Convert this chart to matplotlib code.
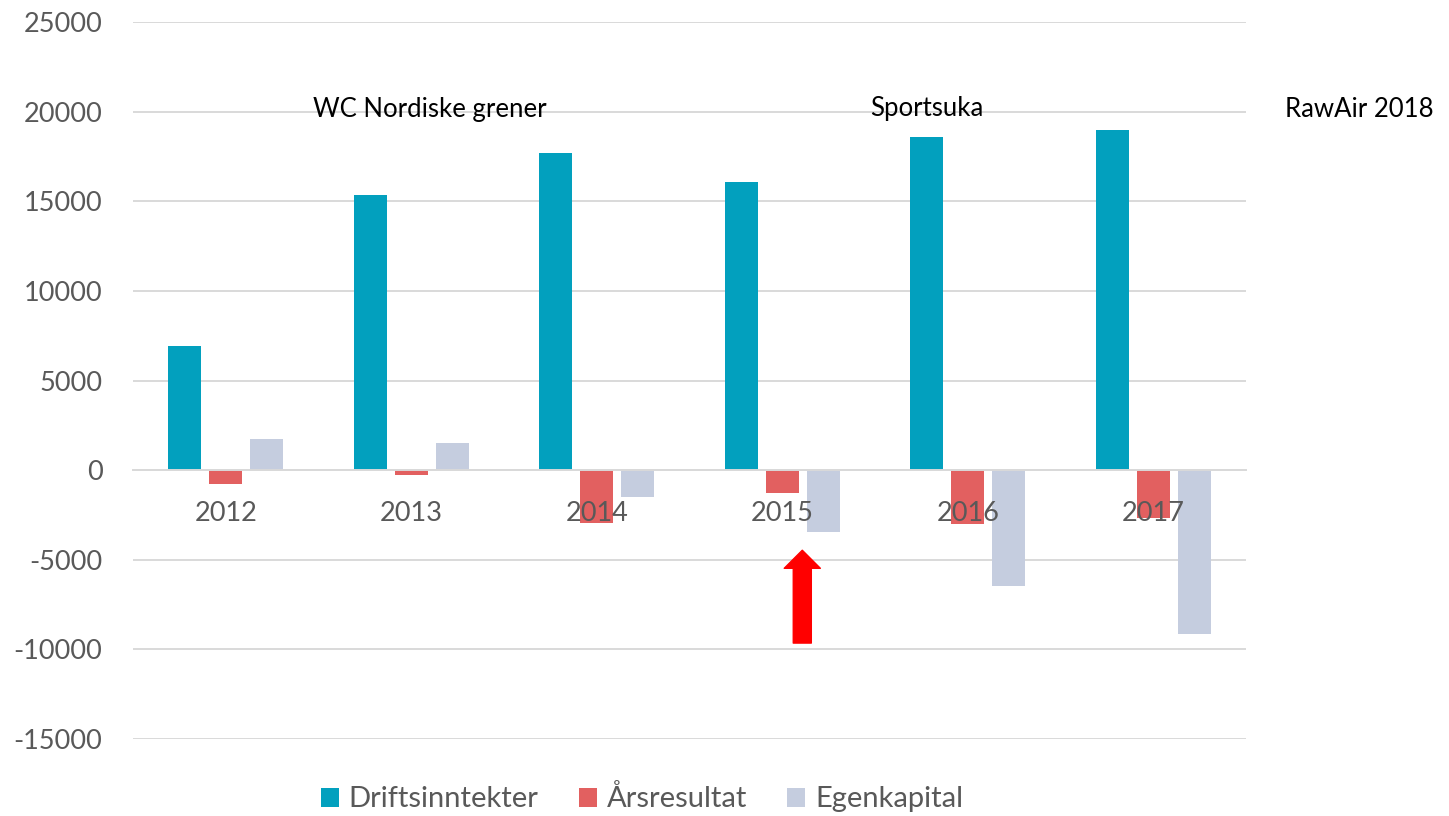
import numpy as np
import matplotlib
matplotlib.use("Agg")
import matplotlib.pyplot as plt
from matplotlib.patches import FancyArrowPatch

plt.rcParams['font.family'] = ['Lato', 'DejaVu Sans']
plt.rcParams['axes.unicode_minus'] = False

# Data
years = ['2012', '2013', '2014', '2015', '2016', '2017']
driftsinntekter = [6900, 15350, 17700, 16050, 18580, 18950]
aarsresultat = [-780, -280, -2960, -1280, -3010, -2680]
egenkapital = [1730, 1500, -1500, -3460, -6470, -9150]
series_names = ['Driftsinntekter', 'Årsresultat', 'Egenkapital']
colors = ['#02A0BE', '#E26060', '#C5CDDF']
y_ticks = list(range(-15000, 25001, 5000))

# Event labels: (text, category position, y value)
events = [('WC Nordiske grener', 1.10, 20100),
          ('Sportsuka', 3.78, 20200),
          ('RawAir 2018', 6.11, 20100)]

fig = plt.figure(figsize=(14.49, 8.16), dpi=100)
ax = fig.add_axes([0.0918, 0.0944, 0.7681, 0.8786])

x = np.arange(len(years))
width = 0.178
step = 0.221
bars = []
for i, (vals, col) in enumerate(zip([driftsinntekter, aarsresultat, egenkapital], colors)):
    b = ax.bar(x + (i - 1) * step, vals, width, color=col, label=series_names[i], zorder=2)
    bars.append(b)

ax.set_xlim(-0.5, len(years) - 0.5)
ax.set_ylim(-15000, 25000)
ax.set_yticks(y_ticks)
ax.set_yticklabels([str(v) for v in y_ticks])
ax.grid(axis='y', color='#D9D9D9', linewidth=1.4)
ax.set_axisbelow(True)

for s in ['top', 'right', 'left']:
    ax.spines[s].set_visible(False)
ax.spines['bottom'].set_position(('data', 0))
ax.spines['bottom'].set_color('#D9D9D9')
ax.spines['bottom'].set_linewidth(1.4)

ax.set_xticks(x)
ax.set_xticklabels(years)
ax.tick_params(axis='x', length=0, pad=22, labelsize=19.5, labelcolor='#595959')
ax.tick_params(axis='y', length=0, pad=22, labelsize=19.5, labelcolor='#595959')
ax.xaxis.set_zorder(3)

for txt, xp, yp in events:
    ax.text(xp, yp, txt, ha='center', va='center', fontsize=18.5, color='black', clip_on=False)

# Red arrow pointing up at 2015
arrow = FancyArrowPatch((3.108, -9650), (3.108, -4470),
                        arrowstyle='simple,head_length=13,head_width=26,tail_width=13',
                        mutation_scale=1, color='#FF0000', shrinkA=0, shrinkB=0, zorder=4)
ax.add_patch(arrow)

fig.legend(handles=bars, labels=series_names, loc='center', bbox_to_anchor=(0.443, 0.021),
           ncol=3, frameon=False, fontsize=21, handlelength=0.62, handleheight=0.62,
           handletextpad=0.34, columnspacing=1.37, labelcolor='#595959')

fig.savefig('out.png', dpi=100)
